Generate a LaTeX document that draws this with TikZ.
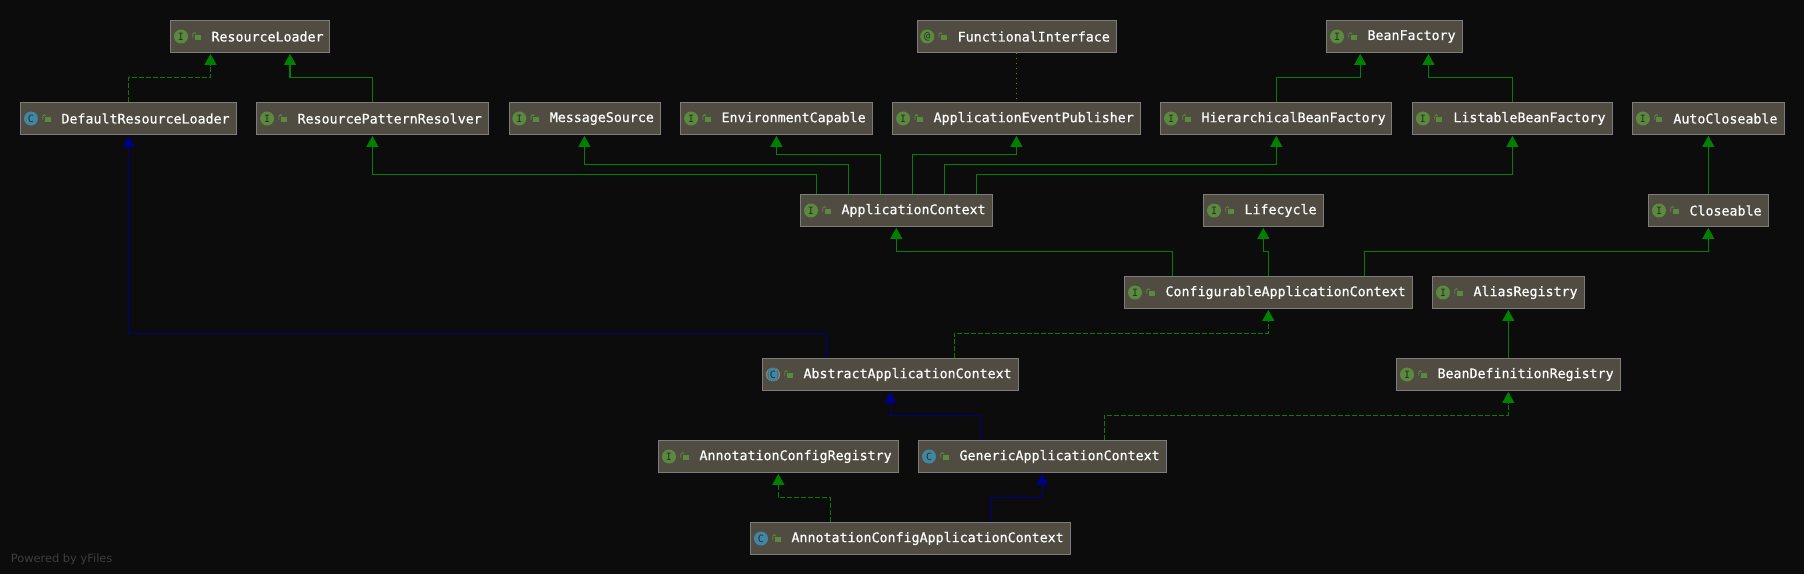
\documentclass[tikz,border=0pt]{standalone}
\usepackage{fontspec}
\setmainfont{DejaVu Sans Mono}
\newfontfamily\boxfont[FakeBold=0.5]{DejaVu Sans Mono}
\newfontfamily\wmfont{DejaVu Sans}
\usetikzlibrary{arrows.meta}
\definecolor{bgc}{HTML}{0C0C0C}
\definecolor{boxc}{HTML}{504C42}
\definecolor{boxb}{HTML}{7C7C7C}
\definecolor{edgeg}{HTML}{008000}
\definecolor{edgeb}{HTML}{000085}
\definecolor{icong}{HTML}{5A8A3E}
\definecolor{iconb}{HTML}{3F87A3}
\definecolor{icont}{HTML}{2B2B2B}
\tikzset{
  x=1pt,y=-1pt,
  jbox/.style={draw=boxb,fill=boxc,line width=1pt,inner sep=0pt,minimum height=31.4pt,text=white,font=\boxfont\fontsize{13.3}{15}\selectfont},
  jicon/.style={circle,inner sep=0pt,minimum size=14pt,text=icont,font=\rmfamily\fontsize{10}{11}\selectfont},
  real/.style={edgeg,line width=1.2pt,-{Triangle[length=11pt,width=12pt]},shorten >=1.2pt},
  impl/.style={real,dash pattern=on 5pt off 2pt},
  super/.style={real,edgeb},
  annot/.style={draw=olive!80!black,line width=1pt,dash pattern=on 1pt off 4pt},
}
% name, x left, x right, y top, text, icon letter, icon colour
\newcommand\jnode[7]{%
  \pgfmathsetmacro\jw{#3-#2}%
  \node[jbox,anchor=north west] (#1) at (#2,#4)
    {\makebox[\jw pt][l]{\hspace{40.7pt}#5}};
  \node[jicon,fill=#7] (#1-icon) at ([xshift=10.7pt]#1.west) {#6};
  \fill[icong] ([xshift=24.2pt,yshift=1.7pt]#1.west) rectangle ([xshift=30.2pt,yshift=-3.7pt]#1.west);
  \draw[icong,line width=0.8pt] ([xshift=25.7pt,yshift=2.4pt]#1.west) arc[start angle=0,end angle=180,radius=1.6pt] -- ++(0pt,-3.6pt);
}
\newcommand\jedge[6]{% style, source, source x, bend y, target, target x
  \draw[#1] (#3,0 |- #2.north) -- (#3,#4) -- (#6,#4) -- (#6,0 |- #5.south);
}
\begin{document}
\begin{tikzpicture}
\fill[bgc] (0,0) rectangle (1804,574);
\useasboundingbox (0,0) rectangle (1804,574);

\jnode{rl}{170.3}{329}{20.3}{ResourceLoader}{I}{icong}
\jnode{fi}{916.5}{1115.5}{20.3}{FunctionalInterface}{@}{icong}
\jnode{bf}{1326.3}{1461.6}{20.3}{BeanFactory}{I}{icong}

\jnode{drl}{20.3}{235.7}{102.3}{DefaultResourceLoader}{C}{iconb}
\jnode{rpr}{256.4}{487.6}{102.3}{ResourcePatternResolver}{I}{icong}
\jnode{ms}{508.6}{659.7}{102.3}{MessageSource}{I}{icong}
\jnode{ec}{680.4}{871.7}{102.3}{EnvironmentCapable}{I}{icong}
\jnode{aep}{892.4}{1139.6}{102.3}{ApplicationEventPublisher}{I}{icong}
\jnode{hbf}{1160.3}{1391.4}{102.3}{HierarchicalBeanFactory}{I}{icong}
\jnode{lbf}{1412.2}{1611.8}{102.3}{ListableBeanFactory}{I}{icong}
\jnode{ac}{1632.2}{1783.6}{102.3}{AutoCloseable}{I}{icong}

\jnode{actx}{800.3}{991.7}{194.3}{ApplicationContext}{I}{icong}
\jnode{lc}{1203.3}{1323}{194.3}{Lifecycle}{I}{icong}
\jnode{cl}{1648.3}{1767.7}{194.3}{Closeable}{I}{icong}

\jnode{cac}{1124.3}{1411.7}{276.3}{ConfigurableApplicationContext}{I}{icong}
\jnode{ar}{1432.3}{1583.7}{276.3}{AliasRegistry}{I}{icong}

\jnode{aac}{762.3}{1018}{358.3}{AbstractApplicationContext}{}{boxc}
% the abstract-class icon: grey rim, narrow blue core
\fill[black!45] (aac-icon) circle[radius=7pt];
\fill[boxc] (aac-icon) ellipse[x radius=5.6pt,y radius=7.2pt];
\fill[iconb,rounded corners=3pt] ([xshift=-4.6pt,yshift=-6.4pt]aac-icon.center) rectangle ([xshift=4.6pt,yshift=6.4pt]aac-icon.center);
\node[jicon,minimum size=0pt] (aac-letter) at (aac-icon) {C};
\jnode{bdr}{1396.3}{1619.7}{358.3}{BeanDefinitionRegistry}{I}{icong}

\jnode{acr}{658.3}{898}{440.3}{AnnotationConfigRegistry}{I}{icong}
\jnode{gac}{918.3}{1166}{440.3}{GenericApplicationContext}{C}{iconb}

\jnode{acac}{750.3}{1070}{522.3}{AnnotationConfigApplicationContext}{C}{iconb}

\jedge{impl}{drl}{128.6}{77.3}{rl}{210.5}
\jedge{real}{rpr}{372.4}{77.3}{rl}{290}
\jedge{real}{hbf}{1276.3}{77.3}{bf}{1360.2}
\jedge{real}{lbf}{1512.4}{77.3}{bf}{1428.4}
\draw[annot] (1016.4,0 |- fi.south) -- (1016.4,0 |- aep.north);
\draw[real] (1708.3,0 |- cl.north) -- (1708.3,0 |- ac.south);

\jedge{real}{actx}{816.6}{174.3}{rpr}{372.4}
\jedge{real}{actx}{848.8}{164.3}{ms}{584.4}
\jedge{real}{actx}{880.5}{154.3}{ec}{776.4}
\jedge{real}{actx}{912.3}{154.3}{aep}{1016.4}
\jedge{real}{actx}{944.4}{164.3}{hbf}{1276.3}
\jedge{real}{actx}{976.6}{174.3}{lbf}{1512.4}

\jedge{real}{cac}{1172.7}{251.3}{actx}{896.3}
\jedge{real}{cac}{1268.7}{251.3}{lc}{1263.3}
\jedge{real}{cac}{1364.3}{251.3}{cl}{1708.3}

\jedge{super}{aac}{826.7}{333.3}{drl}{128.6}
\jedge{impl}{aac}{954.3}{333.3}{cac}{1268.3}
\draw[real] (1508.3,0 |- bdr.north) -- (1508.3,0 |- ar.south);

\jedge{super}{gac}{980.7}{415.3}{aac}{890.3}
\jedge{impl}{gac}{1104.3}{415.3}{bdr}{1508.3}

\jedge{impl}{acac}{830.3}{497.3}{acr}{778.3}
\jedge{super}{acac}{990.3}{497.3}{gac}{1042.3}

\node[anchor=base west,inner sep=0pt,text=black!76,font=\wmfont\fontsize{11.4}{14}\selectfont] (wm) at (10.7,562) {Powered by yFiles};
\end{tikzpicture}
\end{document}
